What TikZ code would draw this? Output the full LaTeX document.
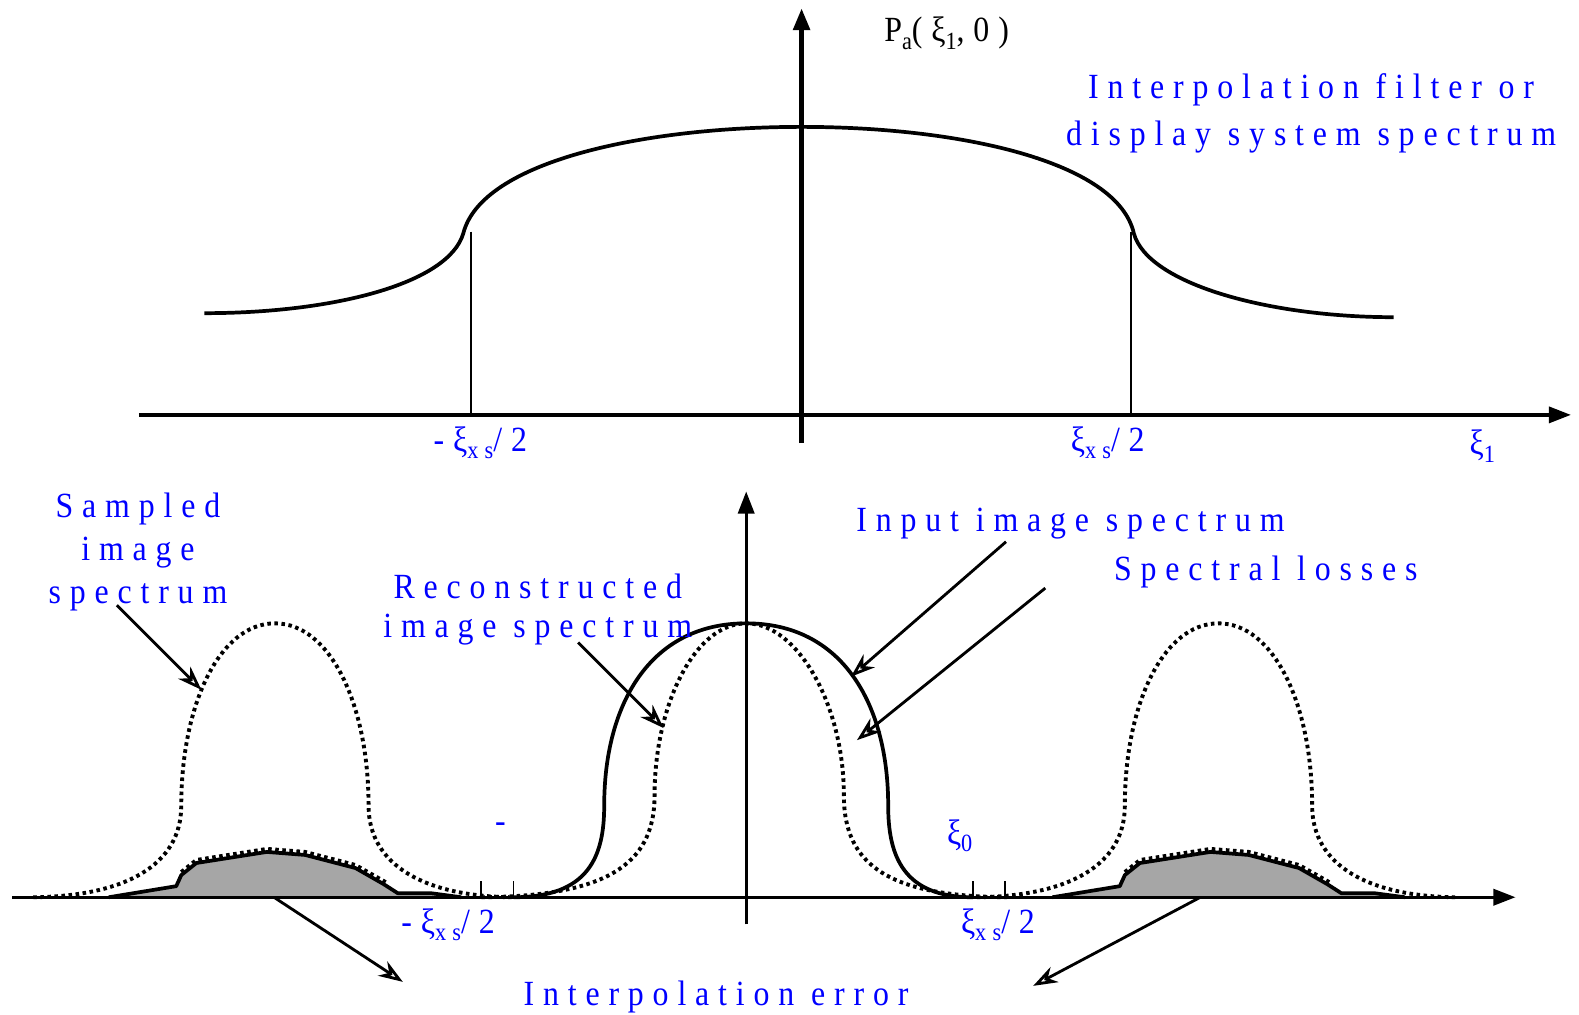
\documentclass[tikz,border=0pt]{standalone}
\usepackage{fontspec}
\setmainfont{Liberation Serif}
\newfontfamily\spcfont[LetterSpace=25,FakeStretch=0.9]{Liberation Serif}
\usetikzlibrary{arrows.meta}
\definecolor{spBlue}{HTML}{0000FF}
\definecolor{spGray}{HTML}{A6A6A6}
\newcommand{\lowidx}[1]{\raisebox{-0.45ex}{\scriptsize #1}}
\tikzset{
  sp axis/.style={draw=black, line width=0.95pt, -{Triangle[length=2.2mm,width=1.6mm]}},
  sp curve/.style={draw=black, line width=1.05pt, line join=round},
  sp dotted/.style={draw=black, line width=1.1pt, dash pattern=on 1pt off 1pt},
  sp tick/.style={draw=black, line width=0.5pt},
  sp pointer/.style={draw=black, line width=0.8pt, -{Stealth[length=2.4mm,width=1.7mm,open]}},
  sp label/.style={font=\spcfont\fontsize{10}{#1}\selectfont, text=spBlue, inner sep=0pt, align=center},
  sp label/.default=12.5,
  sp black label/.style={font=\spcfont\fontsize{10}{11}\selectfont, text=black, inner sep=0pt},
}

\begin{document}
\begin{tikzpicture}[x=0.1mm,y=-0.1mm]
  \useasboundingbox (0,0) rectangle (1568,1007);
  % upper plot
  \draw[sp axis] (138,412) -- (1560,412);
  \draw[sp axis, line width=1.5pt] (796,440) -- (796,8);
  \draw[sp tick] (468,230) -- (468,412);
  \draw[sp tick] (1123,230) -- (1123,412);
  \draw[sp curve] (203,311) .. controls (330,311) and (445,282) .. (460,232)
    .. controls (478,160) and (640,126) .. (796,126)
    .. controls (952,126) and (1110,160) .. (1126,232)
    .. controls (1140,282) and (1260,315) .. (1384,315);
  \node[sp black label] (pa) at (940,33) {P\lowidx{a}(ξ\lowidx{1},0)};
  \node[sp label=13.3] (filter) at (1302,113) {Interpolation filter or\\display system spectrum};
  \node[sp label] (topneg) at (477,440) {-ξ\lowidx{xs}/2};
  \node[sp label] (toppos) at (1100,440) {ξ\lowidx{xs}/2};
  \node[sp label] (xione) at (1472,443) {ξ\lowidx{1}};

  % lower plot
  \foreach \cx in {273,1210}{
    \fill[spGray] (\cx-165,891) -- (\cx-98,880) -- (\cx-93,869) -- (\cx-78,857) -- (\cx-8,846)
      -- (\cx+30,849) -- (\cx+80,862) -- (\cx+108,878) -- (\cx+122,887) -- (\cx+155,887)
      -- (\cx+185,891) -- cycle;
    \draw[sp curve] (\cx-165,891) -- (\cx-98,880) -- (\cx-93,869) -- (\cx-78,857) -- (\cx-8,846)
      -- (\cx+30,849) -- (\cx+80,862) -- (\cx+108,878) -- (\cx+122,887) -- (\cx+155,887)
      -- (\cx+185,891);
    \draw[sp dotted] (\cx-93,866) -- (\cx-78,854) -- (\cx-8,843) -- (\cx+30,846) -- (\cx+80,859)
      -- (\cx+110,876);
    \draw[sp dotted] (\cx-240,891) .. controls (\cx-150,890) and (\cx-93,860) .. (\cx-93,800)
      .. controls (\cx-93,700) and (\cx-55,619) .. (\cx,619)
      .. controls (\cx+55,619) and (\cx+93,700) .. (\cx+93,800)
      .. controls (\cx+93,860) and (\cx+150,890) .. (\cx+235,891);
  }
  \draw[sp axis] (12,891) -- (1505,891);
  \draw[sp axis] (741,918) -- (741,488);
  \foreach \tx in {478,510,966,998}
    \draw[sp tick] (\tx,875) -- (\tx,891);
  \draw[sp curve] (510,891) .. controls (585,891) and (600,850) .. (600,800)
    .. controls (600,700) and (645,619) .. (741,619)
    .. controls (837,619) and (882,700) .. (882,800)
    .. controls (882,850) and (897,891) .. (966,891);
  \draw[sp dotted] (478,891) .. controls (600,890) and (650,860) .. (650,790)
    .. controls (650,700) and (690,619) .. (741,619)
    .. controls (792,619) and (838,700) .. (838,790)
    .. controls (838,860) and (884,890) .. (1000,891);

  \node[sp label=12.2] (sampled) at (137,548) {Sampled\\image\\spectrum};
  \node[sp label=11] (recon) at (534,605) {Reconstructed\\image spectrum};
  \node[sp label] (input) at (1063,520) {Input image spectrum};
  \node[sp label] (losses) at (1257,568) {Spectral losses};
  \node[sp label] (interr) at (711,990) {Interpolation error};
  \node[sp label] (dash) at (497,822) {-};
  \node[sp label] (xizero) at (953,830) {ξ\lowidx{0}};
  \node[sp label] (botneg) at (445,918) {-ξ\lowidx{xs}/2};
  \node[sp label] (botpos) at (991,918) {ξ\lowidx{xs}/2};

  \coordinate (sampledS) at (116,601);
  \coordinate (sampledE) at (200,685);
  \coordinate (reconS) at (574,638);
  \coordinate (reconE) at (659,723);
  \coordinate (inputS) at (999,538);
  \coordinate (inputE) at (845,672);
  \coordinate (lossesS) at (1038,584);
  \coordinate (lossesE) at (851,735);
  \coordinate (errLS) at (272,891);
  \coordinate (errLE) at (400,975);
  \coordinate (errRS) at (1192,891);
  \coordinate (errRE) at (1026,979);
  \draw[sp pointer] (sampledS) -- (sampledE);
  \draw[sp pointer] (reconS) -- (reconE);
  \draw[sp pointer] (inputS) -- (inputE);
  \draw[sp pointer] (lossesS) -- (lossesE);
  \draw[sp pointer] (errLS) -- (errLE);
  \draw[sp pointer] (errRS) -- (errRE);
\end{tikzpicture}
\end{document}
